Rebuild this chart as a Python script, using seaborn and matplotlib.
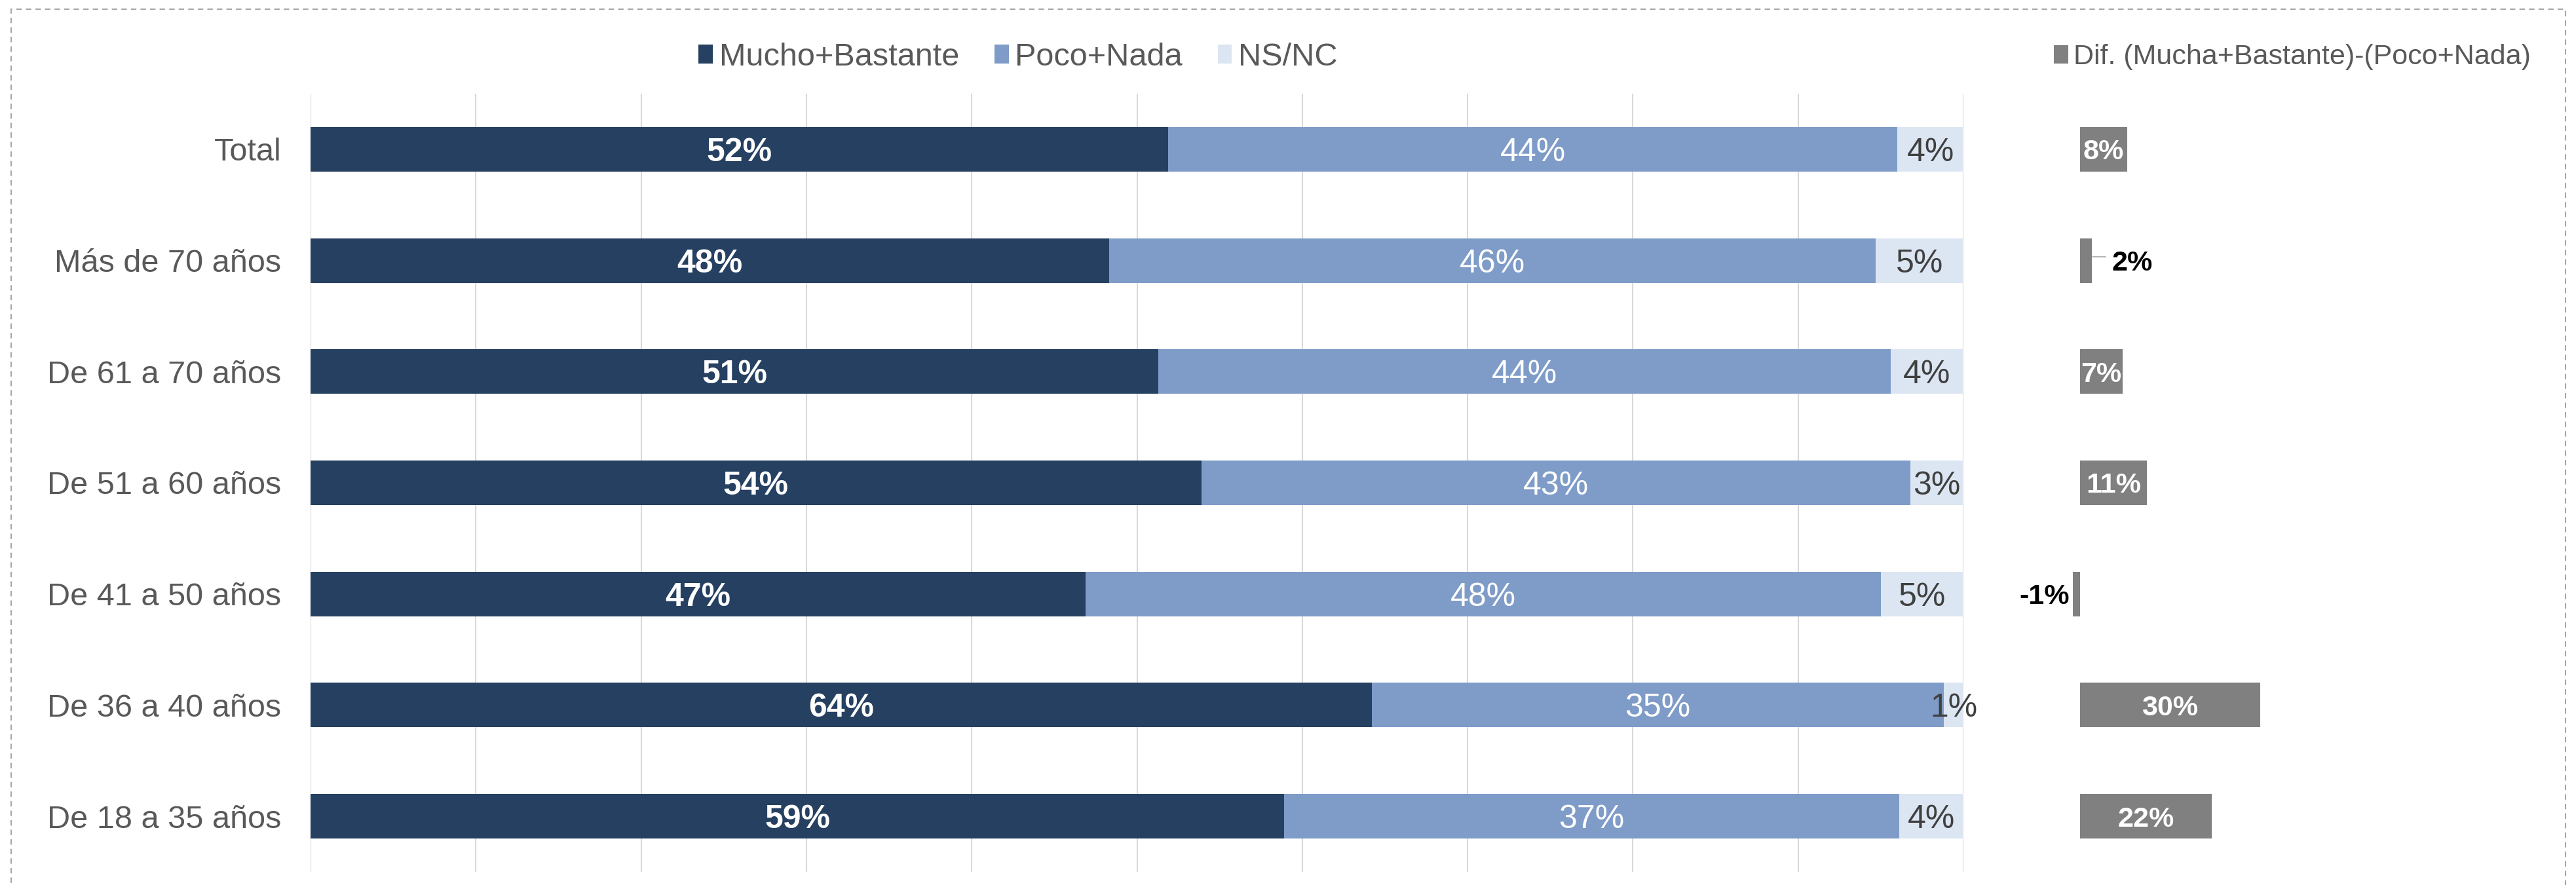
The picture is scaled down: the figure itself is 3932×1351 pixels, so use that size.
import matplotlib
matplotlib.use("Agg")
import matplotlib.pyplot as plt
import seaborn as sns
import pandas as pd
import numpy as np
from matplotlib.patches import Patch, Rectangle

categories = ["Total", "Más de 70 años", "De 61 a 70 años", "De 51 a 60 años",
              "De 41 a 50 años", "De 36 a 40 años", "De 18 a 35 años"]
mucho = [51.9, 48.3, 51.3, 53.9, 46.9, 64.2, 58.9]
poco = [44.1, 46.4, 44.3, 42.9, 48.1, 34.6, 37.2]
nsnc = [4.0, 5.3, 4.4, 3.2, 5.0, 1.2, 3.9]
diff = [7.8, 1.9, 7.0, 11.0, -1.2, 29.6, 21.7]
series_names = ["Mucho+Bastante", "Poco+Nada", "NS/NC"]
diff_name = "Dif. (Mucha+Bastante)-(Poco+Nada)"

C_DARK = "#264061"
C_MID = "#7F9CC8"
C_LIGHT = "#DCE6F2"
C_GRAY = "#808080"
C_TEXT = "#595959"

sns.set_style("white")
plt.rcParams["font.family"] = ["Liberation Sans", "DejaVu Sans"]

FS_CAT = 35
FS_LAB = 36
FS_DIFF = 31

W, H = 3932, 1351
fig = plt.figure(figsize=(W / 100, H / 100), dpi=100)

df = pd.DataFrame({"cat": categories, "m": mucho, "p": poco, "n": nsnc, "d": diff})
df["mp"] = df["m"] + df["p"]
df["mpn"] = df["mp"] + df["n"]

# main axis
ax = fig.add_axes([474 / W, 20 / H, (2997 - 474) / W, (1331 - 143) / H])
sns.barplot(data=df, x="mpn", y="cat", orient="h", color=C_LIGHT, width=0.4,
            saturation=1, ax=ax, zorder=2)
sns.barplot(data=df, x="mp", y="cat", orient="h", color=C_MID, width=0.4,
            saturation=1, ax=ax, zorder=3)
sns.barplot(data=df, x="m", y="cat", orient="h", color=C_DARK, width=0.4,
            saturation=1, ax=ax, zorder=4)
for p in ax.patches:
    p.set_edgecolor("none")
ax.set_xlim(0, 100)
ax.set_ylim(6.5, -0.5)
ax.set_xticks(np.arange(0, 101, 10))
ax.set_xticklabels([])
ax.grid(axis="x", color="#D9D9D9", lw=1.5, zorder=0)
ax.grid(axis="y", visible=False)
ax.set_axisbelow(True)
ax.set_xlabel("")
ax.set_ylabel("")
for s in ax.spines.values():
    s.set_visible(False)
ax.tick_params(axis="y", length=0, pad=32, labelsize=FS_CAT, labelcolor=C_TEXT)
ax.tick_params(axis="x", length=0)
for t in ax.get_yticklabels():
    t.set_verticalalignment("center_baseline")

for i in range(len(categories)):
    m, p_, n = mucho[i], poco[i], nsnc[i]
    ax.text(m / 2, i, f"{round(m)}%", ha="center", va="center_baseline", color="white",
            fontsize=FS_LAB, fontweight="bold", zorder=6)
    ax.text(m + p_ / 2, i, f"{round(p_)}%", ha="center", va="center_baseline", color="white",
            fontsize=FS_LAB, zorder=6)
    ax.text(m + p_ + n / 2, i, f"{round(n)}%", ha="center", va="center_baseline",
            color="#404040", fontsize=FS_LAB, zorder=6)

# diff axis
dl, dr = 3050, 3800
scale = 9.28
ax2 = fig.add_axes([dl / W, 20 / H, (dr - dl) / W, (1331 - 143) / H])
sns.barplot(data=df, x="d", y="cat", orient="h", color=C_GRAY, width=0.4,
            saturation=1, ax=ax2)
for p in ax2.patches:
    p.set_edgecolor("none")
ax2.set_xlim(-(3175 - dl) / scale, (dr - 3175) / scale)
ax2.set_ylim(6.5, -0.5)
ax2.axis("off")
for i, d in enumerate(diff):
    lab = f"{round(d)}%"
    if d >= 5:
        ax2.text(d / 2, i, lab, ha="center", va="center_baseline", color="white",
                 fontsize=FS_DIFF, fontweight="bold")
    elif d >= 0:
        ax2.plot([d + 0.1, d + 2.3], [i - 0.03, i - 0.03], color="#A6A6A6", lw=1.2)
        ax2.text(d + 3.3, i, lab, ha="left", va="center_baseline", color="black",
                 fontsize=FS_DIFF, fontweight="bold")
    else:
        ax2.text(d - 0.5, i, lab, ha="right", va="center_baseline", color="black",
                 fontsize=FS_DIFF, fontweight="bold")

# legends
handles = [Patch(facecolor=c, edgecolor="none", label=l)
           for c, l in zip([C_DARK, C_MID, C_LIGHT], series_names)]
fig.legend(handles=handles, loc="center", bbox_to_anchor=(1554 / W, 1 - 87 / H),
           ncol=3, frameon=False, fontsize=FS_CAT, handlelength=0.45, handleheight=0.55,
           handletextpad=0.2, columnspacing=1.1, labelcolor=C_TEXT)
fig.legend(handles=[Patch(facecolor=C_GRAY, edgecolor="none", label=diff_name)],
           loc="center", bbox_to_anchor=(3499 / W, 1 - 87 / H), frameon=False,
           fontsize=31, handlelength=0.5, handleheight=0.62, handletextpad=0.2,
           labelcolor=C_TEXT)

# dashed frame
fig.add_artist(Rectangle((17 / W, -0.02), (3916 - 17) / W, 1 - 14 / H + 0.02,
                         transform=fig.transFigure, fill=False, edgecolor="#A6A6A6",
                         lw=1.5, linestyle=(0, (4, 3))))

fig.savefig("out.png", dpi=100)
